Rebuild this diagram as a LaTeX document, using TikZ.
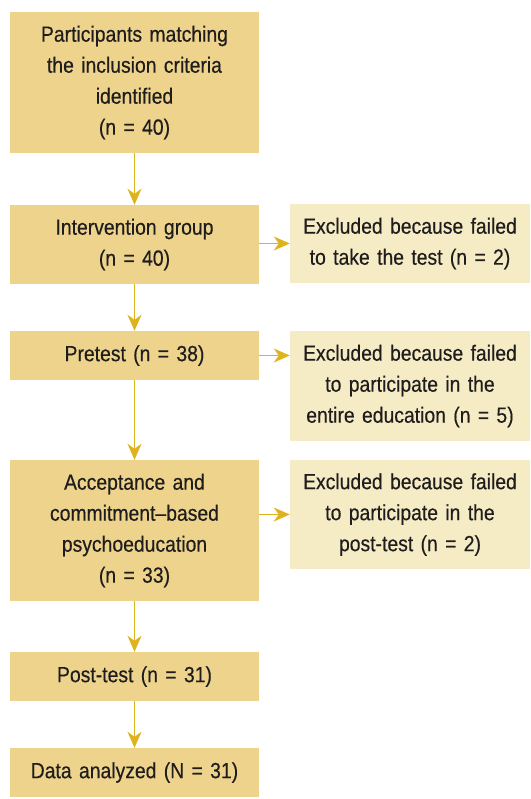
\documentclass[tikz,border=0pt]{standalone}
\usepackage{fontspec}
\setmainfont{Liberation Sans}[FakeStretch=0.88,WordSpace=0.7,FakeBold=0.35]
\usepackage{tikz}
\usetikzlibrary{arrows.meta,positioning}

\definecolor{boxdark}{RGB}{237,211,139}
\definecolor{boxlight}{RGB}{245,235,197}
\definecolor{arrowgold}{RGB}{222,180,30}
\definecolor{textgrey}{RGB}{30,28,28}

\begin{document}
\begin{tikzpicture}[x=1pt,y=-1pt,
    stage/.style={fill=boxdark,inner sep=0pt,text width=249pt,align=center,
        text=textgrey,font=\fontsize{22}{31}\selectfont},
    dropout/.style={fill=boxlight,inner sep=0pt,text width=240pt,align=center,
        text=textgrey,font=\fontsize{22}{31}\selectfont},
    flow/.style={draw=arrowgold,line width=1.8pt,
        -{Stealth[length=16pt,width=14pt,inset=5pt]}}]
    \useasboundingbox (0,0) rectangle (530,799);

    % Main flow
    \node[stage,minimum height=141pt] (part) at (134.5,82.5)
        {Participants matching\\the inclusion criteria\\identified\\(n = 40)};
    \node[stage,minimum height=79pt] (interv) at (134.5,244.5)
        {Intervention group\\(n = 40)};
    \node[stage,minimum height=49pt] (pre) at (134.5,355.5)
        {Pretest (n = 38)};
    \node[stage,minimum height=141pt] (acc) at (134.5,530.5)
        {Acceptance and\\commitment–based\\psychoeducation\\(n = 33)};
    \node[stage,minimum height=49pt] (post) at (134.5,676.5)
        {Post-test (n = 31)};
    \node[stage,minimum height=49pt] (data) at (134.5,772.5)
        {Data analyzed (N = 31)};

    % Exclusions
    \node[dropout,minimum height=79pt] (ex1) at (410,243.5)
        {Excluded because failed\\to take the test (n = 2)};
    \node[dropout,minimum height=110pt] (ex2) at (410,386)
        {Excluded because failed\\to participate in the\\entire education (n = 5)};
    \node[dropout,minimum height=109pt] (ex3) at (410,514.5)
        {Excluded because failed\\to participate in the\\post-test (n = 2)};

    \draw[flow] (part) -- (interv);
    \draw[flow] (interv) -- (pre);
    \draw[flow] (pre) -- (acc);
    \draw[flow] (acc) -- (post);
    \draw[flow] (post) -- (data);
    \draw[flow] (interv.east |- ex1.west) -- (ex1.west);
    \draw[flow] (pre.east) -- (pre.east -| ex2.west);
    \draw[flow] (acc.east |- ex3.west) -- (ex3.west);
\end{tikzpicture}
\end{document}
